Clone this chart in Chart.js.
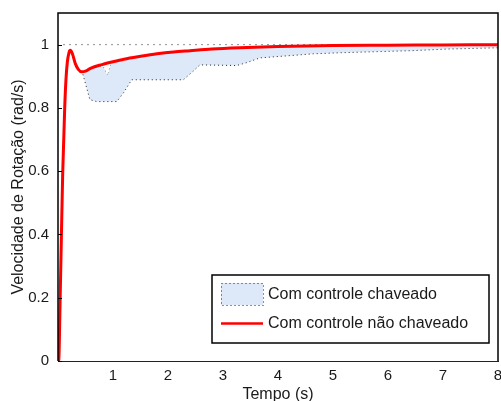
<!DOCTYPE html>
<html>
<head>
<meta charset="utf-8">
<script src="https://cdn.jsdelivr.net/npm/chart.js@4.4.1/dist/chart.umd.min.js"></script>
<style>
  html, body { margin: 0; padding: 0; background: #fff; }
  #wrap { width: 501px; height: 401px; }
</style>
</head>
<body>
<div id="wrap"><canvas id="grafico"></canvas></div>
<script>
// resposta sem chaveamento (linha vermelha)
var tempoNC = [0, 0.013, 0.036, 0.06, 0.085, 0.122, 0.145, 0.17, 0.2, 0.224, 0.26, 0.315, 0.37, 0.43, 0.5, 0.6, 0.8, 1.0, 1.2, 1.5, 1.8, 2.1, 2.4, 2.8, 3.3, 4.0, 5.0, 6.0, 7.0, 8.0];
var velNC   = [0, 0, 0.17, 0.38, 0.59, 0.8, 0.89, 0.945, 0.975, 0.982, 0.972, 0.94, 0.922, 0.914, 0.916, 0.926, 0.937, 0.946, 0.954, 0.963, 0.971, 0.977, 0.981, 0.986, 0.99, 0.994, 0.997, 0.998, 0.999, 1.0];

// envoltoria superior da faixa chaveada
var tempoSup = [0, 0.013, 0.036, 0.06, 0.085, 0.122, 0.145, 0.17, 0.2, 0.224, 0.26, 0.315, 0.37, 0.43, 0.5, 0.6, 0.82, 0.9, 0.97, 1.2, 1.5, 1.8, 2.1, 2.4, 2.8, 3.3, 4.0, 5.0, 6.0, 7.0, 8.0];
var velSup   = [0, 0, 0.17, 0.38, 0.59, 0.8, 0.89, 0.945, 0.975, 0.982, 0.972, 0.94, 0.922, 0.914, 0.916, 0.926, 0.931, 0.902, 0.943, 0.954, 0.963, 0.971, 0.977, 0.981, 0.986, 0.99, 0.994, 0.997, 0.998, 0.999, 1.0];

// envoltoria inferior da faixa chaveada
var tempoInf = [0, 0.013, 0.036, 0.06, 0.085, 0.122, 0.145, 0.17, 0.2, 0.224, 0.26, 0.315, 0.37, 0.44, 0.58, 0.7, 1.07, 1.2, 1.34, 2.28, 2.45, 2.58, 3.25, 3.43, 3.67, 4.2, 4.64, 5.25, 5.85, 6.45, 7.07, 8.0];
var velInf   = [0, 0, 0.17, 0.38, 0.59, 0.8, 0.89, 0.945, 0.975, 0.982, 0.972, 0.94, 0.922, 0.914, 0.826, 0.82, 0.82, 0.85, 0.889, 0.889, 0.915, 0.936, 0.934, 0.943, 0.958, 0.965, 0.971, 0.975, 0.978, 0.981, 0.986, 0.99];

// referencia em 1 rad/s
var tempoRef = [0.1, 8.0];
var velRef   = [1.0, 1.0];

var ticksX = [1, 2, 3, 4, 5, 6, 7, 8];
var ticksY = [0, 0.2, 0.4, 0.6, 0.8, 1];

var legendaChaveado = 'Com controle chaveado';
var legendaNaoChaveado = 'Com controle não chaveado';

function pontos(xs, ys) {
    var out = [];
    for (var i = 0; i < xs.length; i++) {
        out.push({x: xs[i], y: ys[i]});
    }
    return out;
}

var fonte = 'Liberation Sans, Arial, Helvetica, sans-serif';
var azulClaro = 'rgb(221,233,248)';
var pontilhado = '#222';

// moldura, marcas internas e legenda
var moldura = {
    id: 'moldura',
    afterDraw: function (chart) {
        var ctx = chart.ctx;
        var a = chart.chartArea;
        var sy = chart.scales.y;
        ctx.save();
        ctx.strokeStyle = '#000';
        ctx.lineWidth = 1.5;
        ctx.beginPath();
        ctx.moveTo(a.left, a.bottom);
        ctx.lineTo(a.left, a.top);
        ctx.lineTo(a.right, a.top);
        ctx.lineTo(a.right, a.bottom);
        ctx.stroke();

        ctx.lineWidth = 1;
        ticksY.forEach(function (v) {
            var py = Math.round(sy.getPixelForValue(v)) + 0.5;
            ctx.beginPath();
            ctx.moveTo(a.left, py);
            ctx.lineTo(a.left + 4, py);
            ctx.stroke();
        });

        // legenda
        var lx = 212, ly = 275, lw = 277, lh = 68;
        ctx.fillStyle = '#fff';
        ctx.fillRect(lx, ly, lw, lh);
        ctx.lineWidth = 1.5;
        ctx.strokeStyle = '#000';
        ctx.strokeRect(lx, ly, lw, lh);

        ctx.fillStyle = azulClaro;
        ctx.fillRect(221, 283, 42, 22);
        ctx.setLineDash([1, 3]);
        ctx.lineWidth = 1;
        ctx.strokeStyle = pontilhado;
        ctx.strokeRect(221.5, 283.5, 42, 22);
        ctx.setLineDash([]);

        ctx.strokeStyle = 'rgb(255,0,0)';
        ctx.lineWidth = 2.5;
        ctx.beginPath();
        ctx.moveTo(221, 323.5);
        ctx.lineTo(263, 323.5);
        ctx.stroke();

        ctx.fillStyle = '#1a1a1a';
        ctx.font = '16px ' + fonte;
        ctx.textBaseline = 'middle';
        ctx.textAlign = 'left';
        ctx.fillText(legendaChaveado, 268, 295);
        ctx.fillText(legendaNaoChaveado, 268, 324);
        ctx.restore();
    }
};

new Chart(document.getElementById('grafico'), {
    type: 'scatter',
    data: {
        datasets: [
            {
                label: legendaChaveado,
                data: pontos(tempoInf, velInf),
                showLine: true,
                borderColor: pontilhado,
                borderWidth: 1,
                borderDash: [1, 3],
                pointRadius: 0,
                backgroundColor: azulClaro,
                fill: '+1',
                order: 2
            },
            {
                label: 'sup',
                data: pontos(tempoSup, velSup),
                showLine: true,
                borderColor: pontilhado,
                borderWidth: 1,
                borderDash: [1, 3],
                pointRadius: 0,
                fill: false,
                order: 3
            },
            {
                label: legendaNaoChaveado,
                data: pontos(tempoNC, velNC),
                showLine: true,
                borderColor: 'rgb(255,0,0)',
                borderWidth: 3,
                pointRadius: 0,
                cubicInterpolationMode: 'monotone',
                fill: false,
                order: 0
            },
            {
                label: 'ref',
                data: pontos(tempoRef, velRef),
                showLine: true,
                borderColor: pontilhado,
                borderWidth: 1,
                borderDash: [1, 5],
                pointRadius: 0,
                fill: false,
                order: 4
            }
        ]
    },
    options: {
        responsive: true,
        maintainAspectRatio: false,
        animation: false,
        layout: {
            padding: {top: 13, right: 3, left: 0, bottom: 0}
        },
        scales: {
            x: {
                type: 'linear',
                min: 0,
                max: 8,
                afterBuildTicks: function (s) {
                    s.ticks = ticksX.map(function (v) { return {value: v}; });
                },
                afterFit: function (s) {
                    s.height = 40;
                    s.paddingLeft = 0;
                    s.paddingRight = 0;
                },
                ticks: {
                    color: '#1a1a1a',
                    font: {family: fonte, size: 15},
                    padding: 6,
                    maxRotation: 0,
                    autoSkip: false
                },
                grid: {drawOnChartArea: false, drawTicks: false},
                border: {display: true, color: '#222', width: 1, dash: [1, 3]},
                title: {
                    display: true,
                    text: 'Tempo (s)',
                    color: '#1a1a1a',
                    font: {family: fonte, size: 16},
                    padding: {top: 0, bottom: -3}
                }
            },
            y: {
                type: 'linear',
                min: 0,
                max: 1.1,
                afterBuildTicks: function (s) {
                    s.ticks = ticksY.map(function (v) { return {value: v}; });
                },
                afterFit: function (s) {
                    s.width = 58;
                    s.paddingTop = 0;
                    s.paddingBottom = 0;
                },
                ticks: {
                    color: '#1a1a1a',
                    font: {family: fonte, size: 15},
                    padding: 9,
                    callback: function (v) { return String(Math.round(v * 10) / 10); }
                },
                grid: {drawOnChartArea: false, drawTicks: false},
                border: {display: false},
                title: {
                    display: true,
                    text: 'Velocidade de Rotação (rad/s)',
                    color: '#1a1a1a',
                    font: {family: fonte, size: 16},
                    padding: {top: 9, bottom: 0}
                }
            }
        },
        plugins: {
            legend: {display: false},
            tooltip: {enabled: false}
        }
    },
    plugins: [moldura]
});
</script>
</body>
</html>
